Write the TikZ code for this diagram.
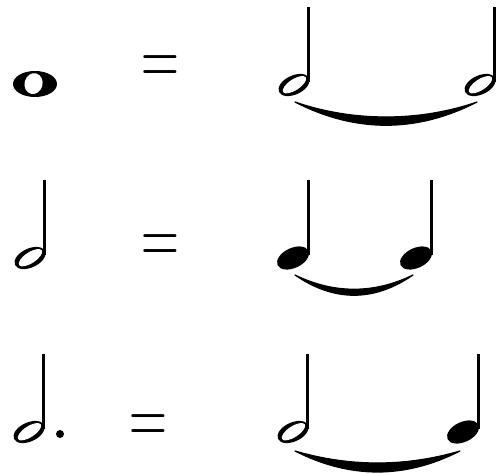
\documentclass[tikz,border=0pt]{standalone}
\usepackage{tikz}
\tikzset{
  stem/.style={line width=3pt},
  tie/.style={fill=black,draw=black,line width=1.2pt,line join=round},
  eqsign/.style={font=\fontsize{52.5}{52.5}\selectfont,inner sep=0pt,anchor=north},
  % note heads with their stems
  pics/halfnote/.style={code={
    \fill[rotate=25] (0,0) ellipse[x radius=16.5, y radius=9.5];
    \fill[white,rotate=33] (0.5,0) ellipse[x radius=13.5, y radius=5.5];
    \draw[stem] (14.5,3) -- (14.5,78);
  }},
  pics/quarternote/.style={code={
    \fill[rotate=25] (0,0) ellipse[x radius=17, y radius=10];
    \draw[stem] (15,3) -- (15,78);
  }},
  pics/wholenote/.style={code={
    \fill (0,0) ellipse[x radius=22, y radius=13];
    \fill[white,rotate=-15] (-1.5,0) ellipse[x radius=9, y radius=10.5];
  }}
}
\newcommand{\eqtall}{\scalebox{1}[1.6]{=}}
\begin{document}
\begin{tikzpicture}[x=1pt,y=1pt]
  \useasboundingbox (0,0) rectangle (496,474);
  % row 1
  \pic at (35,390) {wholenote};
  \node[eqsign] (eqA) at (160.5,419) {\eqtall};
  \pic at (294,389) {halfnote};
  \pic at (480,389) {halfnote};
  \fill[tie] (295,372) .. controls (355,341) and (417,341) .. (477,372)
                      .. controls (419,352) and (353,352) .. cycle;
  % row 2
  \pic at (30,216) {halfnote};
  \node[eqsign] (eqB) at (160.5,240) {\eqtall};
  \pic at (293,216) {quarternote};
  \pic at (416,216) {quarternote};
  \fill[tie] (295,199) .. controls (334,172) and (374,172) .. (413,199)
                      .. controls (374,180) and (334,180) .. cycle;
  % row 3
  \pic at (29,42) {halfnote};
  \fill (60,40) circle[radius=4];
  \node[eqsign] (eqC) at (148,60) {\eqtall};
  \pic at (293,42) {halfnote};
  \pic at (463,42) {quarternote};
  \fill[tie] (295,23) .. controls (350,-5) and (405,-5) .. (460,23)
                     .. controls (405,7) and (350,7) .. cycle;
\end{tikzpicture}
\end{document}
